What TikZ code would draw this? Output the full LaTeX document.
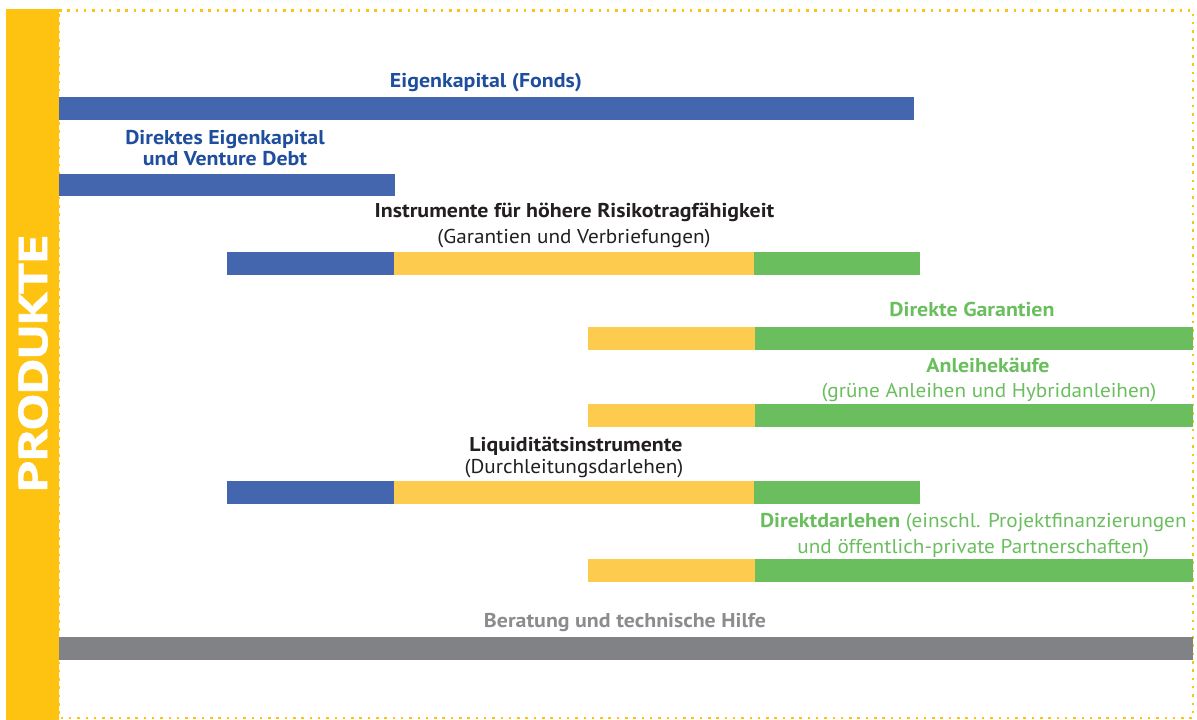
\documentclass[tikz,border=0pt]{standalone}
\usepackage{fontspec}
\setmainfont{PT Sans}
\newfontfamily\regf{PT Sans}[FakeStretch=1.06]
\newfontfamily\boldf{PT Sans}[FakeStretch=1.095]
\newfontfamily\heavyf{PT Sans}[FakeBold=1.2]
\definecolor{cblue}{HTML}{4466AE}
\definecolor{tblue}{HTML}{1F4E9F}
\definecolor{cyel}{HTML}{FDC310}
\definecolor{lyel}{HTML}{FDCB4E}
\definecolor{cgreen}{HTML}{6ABE5E}
\definecolor{cgray}{HTML}{818286}
\definecolor{tgray}{HTML}{8B8C8E}
\definecolor{tblack}{HTML}{231F20}
\tikzset{
  lbl/.style={inner sep=0pt, anchor=base, font=\fontsize{20}{24}\selectfont\regf},
  lblb/.style={inner sep=0pt, anchor=base, font=\fontsize{20}{24}\selectfont\boldf\bfseries},
  bluebold/.style={lblb, text=tblue},
  blackbold/.style={lblb, text=tblack},
  blackreg/.style={lbl, text=tblack},
  greenbold/.style={lblb, text=cgreen},
  greenreg/.style={lbl, text=cgreen},
  graybold/.style={lblb, text=tgray},
  dotborder/.style={draw=cyel, line width=2.5pt, dash pattern=on 2.5pt off 5.8pt},
}
\begin{document}
\begin{tikzpicture}[x=1pt,y=-1pt]
\useasboundingbox (0,0) rectangle (1197,720);
\fill[white] (0,0) rectangle (1197,720);
% side bar
\fill[cyel] (6,9) rectangle (59,720);
\node[inner sep=0pt, rotate=90, text=white] (prod) at (33,363.5)
  {\resizebox{257pt}{29pt}{\heavyf\bfseries PRODUKTE}};
% dotted frame
\draw[dotborder] (59,10.5) -- (1193,10.5) -- (1193,718) -- (59,718) -- cycle;
% bars
\fill[cblue] (59,97) rectangle (914,120);
\fill[cblue] (59,174) rectangle (395,196);
\fill[cblue] (227,252) rectangle (394,275);
\fill[lyel] (394,252) rectangle (754,275);
\fill[cgreen] (754,252) rectangle (920,275);
\fill[lyel] (588,327) rectangle (755,349.5);
\fill[cgreen] (755,327) rectangle (1193,349.5);
\fill[lyel] (588,404) rectangle (755,427);
\fill[cgreen] (755,404) rectangle (1193,427);
\fill[cblue] (227,481) rectangle (394,504);
\fill[lyel] (394,481) rectangle (754,504);
\fill[cgreen] (754,481) rectangle (920,504);
\fill[lyel] (588,559) rectangle (755,582);
\fill[cgreen] (755,559) rectangle (1193,582);
\fill[cgray] (59,637) rectangle (1193,659.5);
% labels
\node[bluebold] (eig) at (486,87.3) {Eigenkapital (Fonds)};
\node[bluebold] (dir1) at (225,144) {Direktes Eigenkapital};
\node[bluebold] (dir2) at (225,165.7) {und Venture Debt};
\node[blackbold] (ins1) at (574.5,217.3) {Instrumente für höhere Risikotragfähigkeit};
\node[blackreg] (ins2) at (574,243.3) {(Garantien und Verbriefungen)};
\node[greenbold] (dg) at (972,316) {Direkte Garantien};
\node[greenbold] (anl1) at (988,372.7) {Anleihekäufe};
\node[greenreg] (anl2) at (989,397.7) {(grüne Anleihen und Hybridanleihen)};
\node[blackbold] (liq1) at (576,451.3) {Liquiditätsinstrumente};
\node[blackreg] (liq2) at (574,473) {(Durchleitungsdarlehen)};
\node[greenreg] (dd1) at (973.3,527.3) {{\boldf\bfseries Direktdarlehen} (einschl. Projektfinanzierungen};
\node[greenreg] (dd2) at (973.3,553.3) {und öffentlich-private Partnerschaften)};
\node[graybold] (ber) at (625,627.3) {Beratung und technische Hilfe};
\end{tikzpicture}
\end{document}
